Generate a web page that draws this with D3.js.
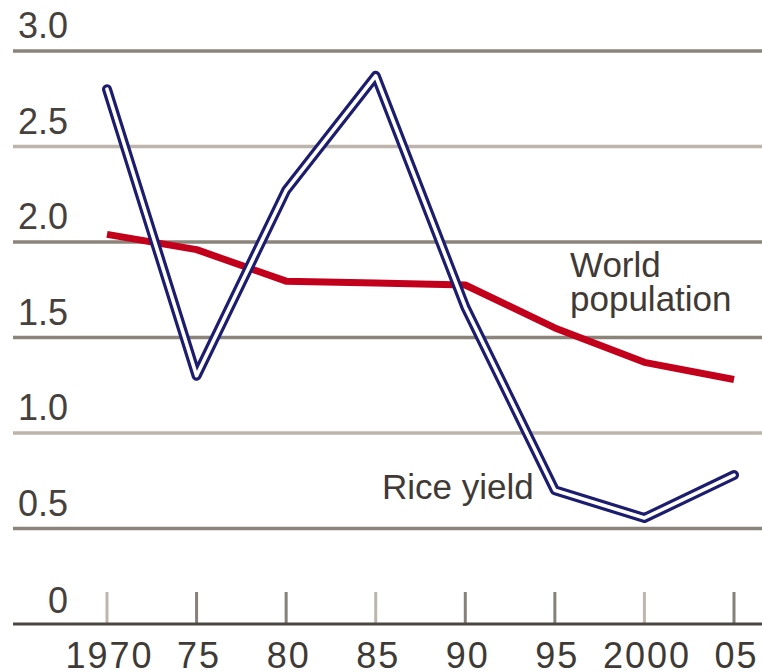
<!DOCTYPE html>
<html>
<head>
<meta charset="utf-8">
<script src="https://cdn.jsdelivr.net/npm/d3@7"></script>
<style>
  html, body { margin: 0; padding: 0; background: #fff; }
  svg { display: block; }
  text { font-family: "Liberation Sans", Arial, sans-serif; }
</style>
</head>
<body>
<div id="chart"></div>
<script>
// annual % change
var years      = [1970, 1975, 1980, 1985, 1990, 1995, 2000, 2005];
var yearLabels = ['1970', '75', '80', '85', '90', '95', '2000', '05'];
var riceYield  = [2.80, 1.30, 2.27, 2.87, 1.66, 0.70, 0.555, 0.78];
var worldPop   = [2.04, 1.96, 1.795, 1.785, 1.775, 1.55, 1.37, 1.28];
var yTicks     = [0, 0.5, 1.0, 1.5, 2.0, 2.5, 3.0];

var W = 762, H = 672;

var svg = d3.select('#chart').append('svg')
  .attr('width', W)
  .attr('height', H);

var x = d3.scaleLinear().domain([1970, 2005]).range([107, 734]);
var y = d3.scaleLinear().domain([0, 3]).range([624, 51]);

// gridlines (a couple come out lighter in the original)
var lightLines = [2.5, 1.0];
svg.append('g').selectAll('line')
  .data(yTicks.filter(function(d) { return d > 0; }))
  .enter().append('line')
  .attr('x1', 13).attr('x2', W)
  .attr('y1', function(d) { return y(d); })
  .attr('y2', function(d) { return y(d); })
  .attr('stroke', function(d) { return lightLines.indexOf(d) >= 0 ? '#bdb5ab' : '#8a847b'; })
  .attr('stroke-width', 3.5);

// y labels, sitting above their gridline
svg.append('g').selectAll('text')
  .data(yTicks)
  .enter().append('text')
  .attr('x', 68)
  .attr('y', function(d) { return y(d) - (d === 0 ? 11 : 13); })
  .attr('text-anchor', 'end')
  .attr('font-size', 36)
  .attr('fill', '#46413c')
  .text(function(d) { return d === 0 ? '0' : d.toFixed(1); });

// x axis: baseline, short upward ticks, labels below
var xAxis = d3.axisBottom(x)
  .tickValues(years)
  .tickSize(0)
  .tickFormat(function(d, i) { return yearLabels[i]; });

var ax = svg.append('g')
  .attr('transform', 'translate(0,' + y(0) + ')')
  .call(xAxis);
ax.select('.domain').remove();
ax.selectAll('text')
  .attr('y', 44)
  .attr('dy', null)
  .attr('dx', 2)
  .attr('font-size', 36)
  .attr('font-family', '"Liberation Sans", Arial, sans-serif')
  .attr('letter-spacing', 2)
  .attr('fill', '#3e3a36');

svg.append('g').selectAll('line')
  .data(years)
  .enter().append('line')
  .attr('x1', function(d) { return x(d); })
  .attr('x2', function(d) { return x(d); })
  .attr('y1', y(0) - 32)
  .attr('y2', y(0))
  .attr('stroke', function(d, i) { return (i % 3 === 0) ? '#bdb6ac' : '#85807a'; })
  .attr('stroke-width', 3);

svg.append('line')
  .attr('x1', 13).attr('x2', W)
  .attr('y1', y(0)).attr('y2', y(0))
  .attr('stroke', '#4a4641')
  .attr('stroke-width', 3);

// world population: plain red line
var popLine = d3.line()
  .x(function(d, i) { return x(years[i]); })
  .y(function(d) { return y(d); });

svg.append('path')
  .datum(worldPop)
  .attr('d', popLine)
  .attr('fill', 'none')
  .attr('stroke', '#c2001b')
  .attr('stroke-width', 7)
  .attr('stroke-linejoin', 'round');

// rice yield: navy double line (navy stroke with white core)
var riceLine = d3.line()
  .x(function(d, i) { return x(years[i]); })
  .y(function(d) { return y(d); });

svg.append('path')
  .datum(riceYield)
  .attr('d', riceLine)
  .attr('fill', 'none')
  .attr('stroke', '#1c1d6e')
  .attr('stroke-width', 10)
  .attr('stroke-linejoin', 'round')
  .attr('stroke-linecap', 'round');

svg.append('path')
  .datum(riceYield)
  .attr('d', riceLine)
  .attr('fill', 'none')
  .attr('stroke', '#ffffff')
  .attr('stroke-width', 3.6)
  .attr('stroke-linejoin', 'round')
  .attr('stroke-linecap', 'round');

// annotations
var notes = svg.append('g')
  .attr('font-size', 35)
  .attr('fill', '#3f3a35');

notes.append('text').attr('x', 570).attr('y', 277).text('World');
notes.append('text').attr('x', 570).attr('y', 311).text('population');
notes.append('text').attr('x', 382).attr('y', 499).text('Rice yield');
</script>
</body>
</html>
